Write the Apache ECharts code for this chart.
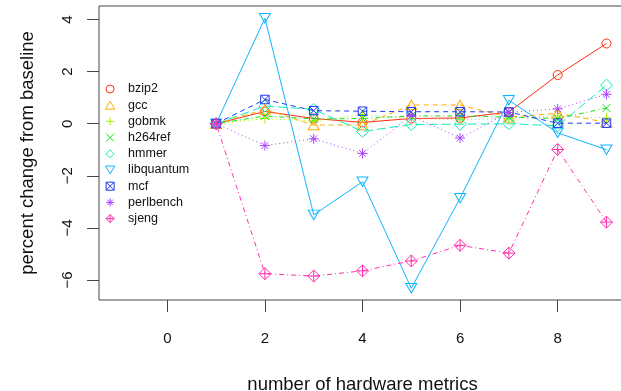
<!DOCTYPE html>
<html>
<head>
<meta charset="utf-8">
<script src="https://cdn.jsdelivr.net/npm/echarts@6/dist/echarts.min.js"></script>
<style>
html,body{margin:0;padding:0;background:#fff;}
#c{width:621px;height:391px;}
</style>
</head>
<body>
<div id="c"></div>
<script>
// ---- data ----
var xValues = [1, 2, 3, 4, 5, 6, 7, 8, 9];
var seriesNames = ["bzip2", "gcc", "gobmk", "h264ref", "hmmer", "libquantum", "mcf", "perlbench", "sjeng"];
var bzip2      = [0, 0.47, 0.20, 0.05, 0.20, 0.22, 0.45, 1.87, 3.08];
var gcc        = [0, 0.55, -0.05, -0.05, 0.72, 0.72, 0.25, 0.40, 0.05];
var gobmk      = [0, 0.20, 0.10, 0.35, 0.20, 0.15, 0.20, 0.30, 0.22];
var h264ref    = [0, 0.30, 0.18, 0.20, 0.30, 0.30, 0.25, 0.20, 0.60];
var hmmer      = [0, 0.68, 0.55, -0.30, -0.03, -0.02, 0.00, -0.08, 1.48];
var libquantum = [0, 4.05, -3.50, -2.23, -6.32, -2.86, 0.90, -0.35, -1.00];
var mcf        = [0, 0.93, 0.50, 0.48, 0.46, 0.46, 0.45, 0.02, 0.02];
var perlbench  = [0, -0.84, -0.58, -1.14, 0.30, -0.55, 0.43, 0.57, 1.13];
var sjeng      = [0, -5.76, -5.85, -5.65, -5.27, -4.67, -4.97, -0.99, -3.78];
var xTicks = [0, 2, 4, 6, 8];
var yTicks = [-6, -4, -2, 0, 2, 4];

// ---- styles ----
var values = [bzip2, gcc, gobmk, h264ref, hmmer, libquantum, mcf, perlbench, sjeng];
var colors = ['#FF2E10', '#FFAA00', '#AAF000', '#10E810', '#10F0B4', '#10B4FF', '#1A3CF0', '#AA40FF', '#FF30B0'];
var dashes = ['solid', [5, 4], [1, 3], [1, 3, 5, 3], [9, 4], 'solid', [5, 4], [1, 3], [1, 3, 5, 3]];
var symbols = [
  'path://M10,5A5,5,0,1,1,0,5A5,5,0,1,1,10,5Z',
  'path://M5,0L10,8.66L0,8.66Z',
  'path://M5,0L5,10M0,5L10,5',
  'path://M0,0L10,10M10,0L0,10',
  'path://M5,0L10,5L5,10L0,5Z',
  'path://M0,0L10,0L5,8.66Z',
  'path://M0,0L10,0L10,10L0,10ZM0,0L10,10M10,0L0,10',
  'path://M5,0L5,10M0,5L10,5M1.6,1.6L8.4,8.4M8.4,1.6L1.6,8.4',
  'path://M5,0L10,5L5,10L0,5ZM5,0L5,10M0,5L10,5'
];
var sizes = [9, [11, 9.5], 10, 8, 12, [11, 9.5], 8.5, 10, 12];

var series = seriesNames.map(function (name, i) {
  return {
    name: name,
    type: 'line',
    data: xValues.map(function (x, j) { return [x, values[i][j]]; }),
    symbol: symbols[i],
    symbolSize: sizes[i],
    showAllSymbol: true,
    lineStyle: { color: colors[i], width: 1, type: dashes[i] },
    itemStyle: { color: 'rgba(0,0,0,0)', borderColor: colors[i], borderWidth: 1 },
    emphasis: { disabled: true },
    z: 2 + i
  };
});

var chart = echarts.init(document.getElementById('c'), null, { renderer: 'canvas' });
chart.setOption({
  animation: false,
  backgroundColor: '#fff',
  textStyle: { fontFamily: 'Liberation Sans, Arial, Helvetica, sans-serif' },
  grid: {
    left: 99, top: 6, right: -5, bottom: 91,
    show: true, borderColor: '#444', borderWidth: 1,
    containLabel: false, outerBoundsMode: 'none'
  },
  legend: {
    orient: 'vertical',
    left: 100, top: 77,
    itemWidth: 26, itemHeight: 8, itemGap: 2.2,
    selectedMode: false,
    textStyle: { fontSize: 12.5, color: '#111', lineHeight: 14, padding: [0, 0, 0, 0] },
    data: seriesNames.map(function (name, i) {
      return {
        name: name, icon: symbols[i],
        itemStyle: { color: 'rgba(0,0,0,0)', borderColor: colors[i], borderWidth: 1 }
      };
    })
  },
  xAxis: {
    type: 'value', min: -1.4, max: 9.4,
    name: 'number of hardware metrics', nameLocation: 'middle', nameGap: 75,
    nameTextStyle: { fontSize: 18.5, color: '#111' },
    axisLine: { show: false, onZero: false },
    axisTick: { show: true, inside: false, length: 12, customValues: xTicks, lineStyle: { color: '#444', width: 1 } },
    axisLabel: { show: true, customValues: xTicks, fontSize: 15, color: '#111', margin: 31 },
    splitLine: { show: false }
  },
  yAxis: {
    type: 'value', min: -6.77, max: 4.52,
    name: 'percent change from baseline', nameLocation: 'middle', nameGap: 62,
    nameTextStyle: { fontSize: 18.5, color: '#111' },
    axisLine: { show: false, onZero: false },
    axisTick: { show: true, inside: false, length: 12, customValues: yTicks, lineStyle: { color: '#444', width: 1 } },
    axisLabel: {
      show: true, customValues: yTicks, fontSize: 15, color: '#111', margin: 24, rotate: 90,
      formatter: function (v) { return v < 0 ? '\u2212' + Math.abs(v) : String(v); }
    },
    splitLine: { show: false }
  },
  series: series
});
</script>
</body>
</html>
